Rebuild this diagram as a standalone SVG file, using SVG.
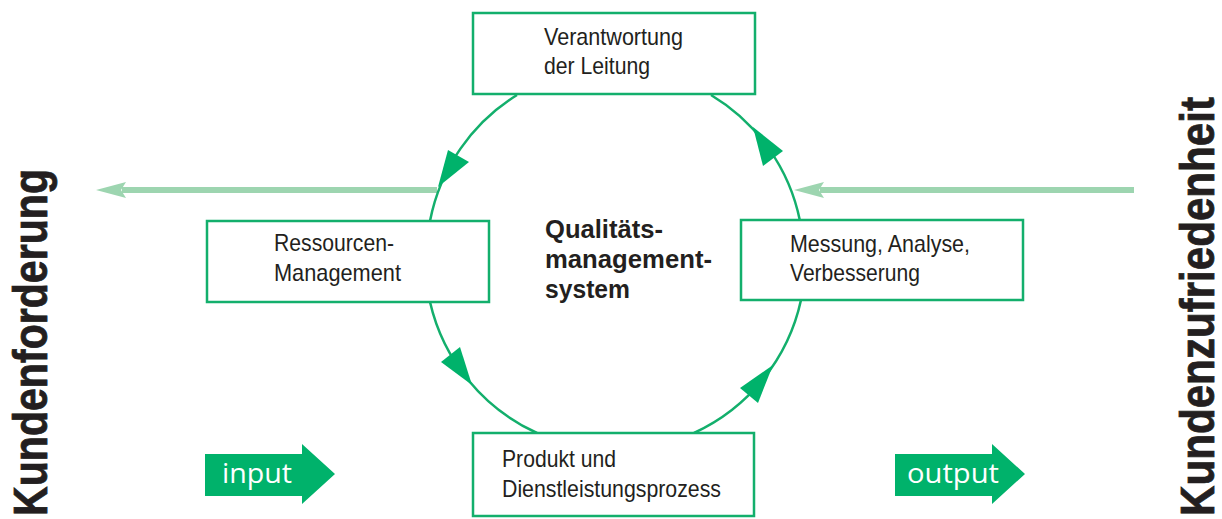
<svg xmlns="http://www.w3.org/2000/svg" width="1222" height="519" viewBox="0 0 1222 519">
<style>
.box{fill:#fff;stroke:#13af6c;stroke-width:2.5}
.arc{fill:none;stroke:#13af6c;stroke-width:2.5}
.head{fill:#00b26b}
.light{stroke:#9dd5b0;stroke-width:6;fill:none}
.lhead{fill:#9dd5b0}
.t{font-family:"Liberation Sans Narrow","Liberation Sans",Arial,sans-serif;font-size:24px;fill:#231f20}
.b{font-family:"Liberation Sans Narrow","Liberation Sans",Arial,sans-serif;font-size:25px;font-weight:bold;fill:#231f20}
.side{font-family:"Liberation Sans Narrow","Liberation Sans",Arial,sans-serif;font-size:49px;font-weight:bold;fill:#231f20;stroke:#231f20;stroke-width:0.8}
.io{font-family:"Open Sans","Noto Sans",sans-serif;font-size:28px;fill:#fff}
.big{fill:#00b26b}
</style>
<rect width="1222" height="519" fill="#fff"/>
<g id="connectors">
<path class="light" d="M437,190 H122"/>
<polygon class="lhead" points="96,190 126,182 121,190 126,198"/>
<path class="light" d="M1134,190 H820"/>
<polygon class="lhead" points="794,190 824,182 819,190 824,198"/>
<path class="arc" d="M517,95 A191,191 0 0 0 430,221"/>
<polygon class="head" points="438,187 448,150 469,162"/>
<path class="arc" d="M800,221 A191,191 0 0 0 711,95"/>
<polygon class="head" points="753,127 763,166 783,151"/>
<path class="arc" d="M430,302 A191,191 0 0 0 537,433"/>
<polygon class="head" points="472,385 441,362 460,347"/>
<path class="arc" d="M694,433 A191,191 0 0 0 801,300"/>
<polygon class="head" points="773,365 740,388 758,403"/>
</g>
<g id="verantwortung">
<rect class="box" x="473" y="13" width="282" height="81"/>
<text class="t" x="544" y="45" textLength="139" lengthAdjust="spacingAndGlyphs">Verantwortung</text>
<text class="t" x="544" y="74" textLength="106" lengthAdjust="spacingAndGlyphs">der Leitung</text>
</g>
<g id="ressourcen">
<rect class="box" x="207" y="221" width="282" height="81"/>
<text class="t" x="274" y="251" textLength="120" lengthAdjust="spacingAndGlyphs">Ressourcen-</text>
<text class="t" x="274" y="281" textLength="127" lengthAdjust="spacingAndGlyphs">Management</text>
</g>
<g id="messung">
<rect class="box" x="741" y="220" width="282" height="80"/>
<text class="t" x="790" y="252" textLength="180" lengthAdjust="spacingAndGlyphs">Messung, Analyse,</text>
<text class="t" x="790" y="281" textLength="130" lengthAdjust="spacingAndGlyphs">Verbesserung</text>
</g>
<g id="produkt">
<rect class="box" x="473" y="433" width="281" height="83"/>
<text class="t" x="502" y="467" textLength="114" lengthAdjust="spacingAndGlyphs">Produkt und</text>
<text class="t" x="502" y="497" textLength="219" lengthAdjust="spacingAndGlyphs">Dienstleistungsprozess</text>
</g>
<g id="center">
<text class="b" x="545" y="238" textLength="118" lengthAdjust="spacingAndGlyphs">Qualitäts-</text>
<text class="b" x="545" y="268" textLength="167" lengthAdjust="spacingAndGlyphs">management-</text>
<text class="b" x="545" y="298" textLength="85" lengthAdjust="spacingAndGlyphs">system</text>
</g>
<g id="input">
<polygon class="big" points="205,454 302,454 302,444 335,474 302,504 302,496 205,496"/>
<text class="io" x="222" y="483" textLength="70" lengthAdjust="spacingAndGlyphs">input</text>
</g>
<g id="output">
<polygon class="big" points="895,454 992,454 992,444 1025,474 992,504 992,496 895,496"/>
<text class="io" x="907" y="483" textLength="92" lengthAdjust="spacingAndGlyphs">output</text>
</g>
<g id="kundenforderung">
<text class="side" transform="translate(47,516) rotate(-90)" textLength="347" lengthAdjust="spacingAndGlyphs">Kundenforderung</text>
</g>
<g id="kundenzufriedenheit">
<text class="side" transform="translate(1214,516) rotate(-90)" textLength="419" lengthAdjust="spacingAndGlyphs">Kundenzufriedenheit</text>
</g>
</svg>
